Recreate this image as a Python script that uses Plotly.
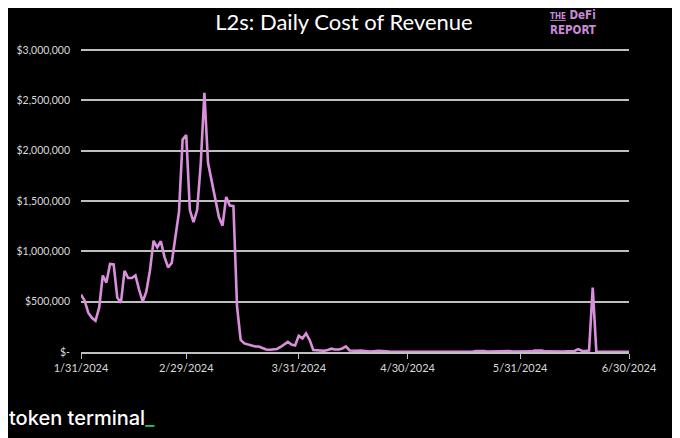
import pandas as pd
import plotly.graph_objects as go

# daily cost of revenue, 1/31/2024 .. 6/30/2024
start_date = '2024-01-31'
cost = [
    570000, 510000, 390000, 340000, 310000, 440000, 760000, 690000, 875000, 870000,
    540000, 490000, 805000, 735000, 735000, 760000, 620000, 500000, 600000, 810000,
    1105000, 1040000, 1100000, 945000, 840000, 885000, 1140000, 1390000, 2110000, 2155000,
    1410000, 1290000, 1410000, 1870000, 2575000, 1880000, 1700000, 1505000, 1340000, 1255000,
    1540000, 1455000, 1450000, 450000, 120000, 85000, 75000, 65000, 55000, 55000,
    40000, 25000, 22000, 25000, 30000, 50000, 75000, 100000, 75000, 65000,
    160000, 135000, 185000, 120000, 20000, 15000, 10000, 12000, 20000, 33000,
    25000, 25000, 35000, 55000, 15000, 10000, 12000, 15000, 8000, 8000,
    5000, 10000, 12000, 10000, 5000, 4000, 3000, 3000, 4000, 3000,
    3000, 2000, 3000, 4000, 3000, 3000, 2000, 3000, 3000, 4000,
    3000, 3000, 2000, 3000, 3000, 4000, 5000, 4000, 5000, 10000,
    12000, 10000, 5000, 6000, 5000, 5000, 6000, 12000, 10000, 5000,
    5000, 6000, 5000, 5000, 6000, 15000, 16000, 14000, 6000, 5000,
    8000, 10000, 6000, 5000, 8000, 10000, 10000, 28000, 12000, 10000,
    15000, 640000, 5000, 3000, 3000, 3000, 3000, 3000, 3000, 3000,
    3000, 3000,
]
dates = pd.date_range(start_date, periods=len(cost), freq='D')

x_ticks = ['2024-01-31', '2024-02-29', '2024-03-31', '2024-04-30', '2024-05-31', '2024-06-30']
x_labels = ['1/31/2024', '2/29/2024', '3/31/2024', '4/30/2024', '5/31/2024', '6/30/2024']
y_ticks = [0, 500000, 1000000, 1500000, 2000000, 2500000, 3000000]
y_labels = ['$-', '$500,000', '$1,000,000', '$1,500,000', '$2,000,000', '$2,500,000', '$3,000,000']

fig = go.Figure()
fig.add_trace(go.Scatter(x=dates, y=cost, mode='lines',
                         line=dict(color='#D98FDC', width=2.6), showlegend=False))

# page body has an 8px margin, so the figure is a bit smaller than the window
fig.update_layout(
    width=672, height=430,
    paper_bgcolor='black', plot_bgcolor='black',
    margin=dict(l=73, r=51, t=41, b=86, autoexpand=False),
    font=dict(family='Lato', color='#D9D9D9', size=11),
    title=dict(text='L2s: Daily Cost of Revenue', x=0.5, xanchor='center', y=0.966, yanchor='middle',
               font=dict(family='Lato', size=22, color='white')),
)
fig.update_xaxes(
    range=['2024-01-31', '2024-06-30'], tickvals=x_ticks, ticktext=x_labels,
    showgrid=False, zeroline=False, showline=True, linecolor='#BFBFBF', linewidth=1.5,
    ticks='outside', ticklen=5, tickcolor='#BFBFBF', tickfont=dict(size=11, color='#D9D9D9'),
)
fig.update_yaxes(
    range=[0, 3010000], tickvals=y_ticks, ticktext=y_labels,
    showgrid=True, gridcolor='#BFBFBF', gridwidth=1.5, zeroline=False,
    tickfont=dict(size=10.5, color='#D9D9D9'), ticklabelstandoff=10,
)

# logo (one block so the two lines don't collide) and footer
fig.add_annotation(text='<span style="font-size:8px"><u>THE</u></span> DeFi<br>REPORT', x=0.852, y=1.088,
                   xref='paper', yref='paper', xanchor='left', yanchor='middle', align='left',
                   showarrow=False,
                   font=dict(family='DejaVu Sans Condensed', size=11.5, color='#C98BD8', weight='bold'))
fig.add_annotation(text='token terminal<span style="color:#22C07A">_</span>', x=-0.135, y=-0.218,
                   xref='paper', yref='paper', xanchor='left', yanchor='middle', showarrow=False,
                   font=dict(family='Inter', size=20, color='white', weight=500))

fig.write_html('out.html')
